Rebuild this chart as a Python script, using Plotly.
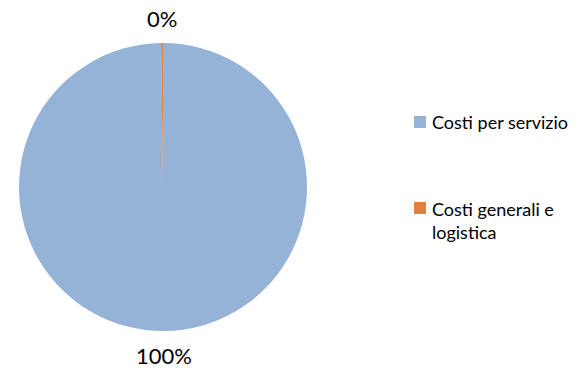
import math
import plotly.graph_objects as go

categories = ["Costi per servizio", "Costi generali e logistica"]
legend_labels = ["Costi per servizio", "Costi generali e<br>logistica"]
values = [99.8, 0.2]
colors = ["#95B3D7", "#E2803F"]

W, H = 574, 368
FONT = "Lato"

# pie geometry (pixels)
CX, CY, R = 163, 187, 144

fig = go.Figure()
fig.add_trace(go.Pie(
    labels=categories,
    values=values,
    sort=False,
    direction="clockwise",
    rotation=0,
    marker=dict(colors=colors, line=dict(width=0)),
    textinfo="none",
    showlegend=False,
    domain=dict(x=[(CX - R) / W, (CX + R) / W], y=[1 - (CY + R) / H, 1 - (CY - R) / H]),
    hoverinfo="label+percent",
))

# percentage labels placed outside at each slice's mid-angle
total = sum(values)
cum = 0.0
LABEL_OFF = 25
for v in values:
    theta = 2 * math.pi * (cum + v / 2) / total
    cum += v
    px = CX + (R + LABEL_OFF) * math.sin(theta)
    py = CY - (R + LABEL_OFF) * math.cos(theta)
    fig.add_annotation(x=px / W, y=1 - py / H, xref="paper", yref="paper",
                       text=f"{round(v / total * 100):d}%", showarrow=False,
                       xanchor="center", yanchor="middle",
                       font=dict(family=FONT, size=22, color="#000000"))

# legend drawn manually to reproduce spacing
leg_y = [122, 208]
for i, (lab, col, y) in enumerate(zip(legend_labels, colors, leg_y)):
    fig.add_shape(type="rect", xref="paper", yref="paper",
                  x0=414 / W, x1=426 / W, y0=1 - (y + 6) / H, y1=1 - (y - 6) / H,
                  fillcolor=col, line=dict(width=0))
    nlines = lab.count("<br>") + 1
    ty = y + (nlines - 1) * 12
    fig.add_annotation(x=430 / W, y=1 - ty / H, xref="paper", yref="paper",
                       text=lab, showarrow=False, xanchor="left", yanchor="middle",
                       align="left", font=dict(family=FONT, size=18, color="#000000"))

fig.update_layout(
    width=W, height=H,
    margin=dict(l=0, r=0, t=0, b=0),
    paper_bgcolor="white", plot_bgcolor="white",
)
fig.write_html("out.html", config={"displayModeBar": False},
               post_script="document.body.style.margin='0';")
